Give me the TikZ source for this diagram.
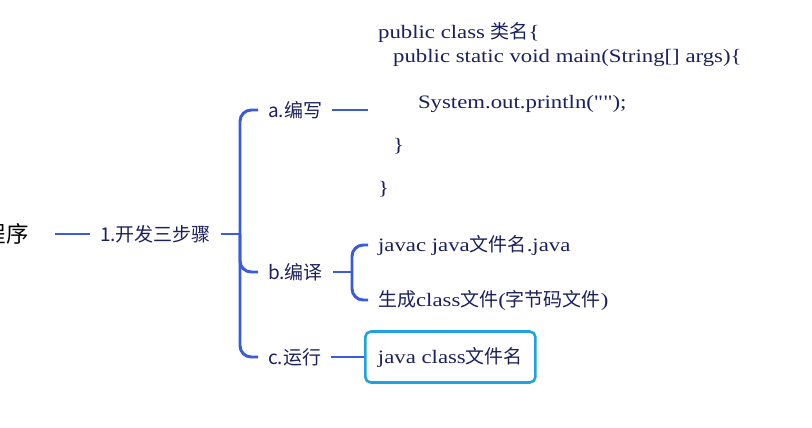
\documentclass[tikz,border=0pt]{standalone}
\usepackage{fontspec}
\setmainfont{Liberation Serif}[FakeStretch=1.2, Ligatures=TeXOff]
\newfontfamily\cjk{Noto Sans CJK SC}
\usepackage{tikz}
\usetikzlibrary{calc}
\definecolor{mmnavy}{RGB}{28,32,92}
\definecolor{mmbleu}{RGB}{58,92,220}
\definecolor{mmciel}{RGB}{30,162,226}

\begin{document}
\begin{tikzpicture}[
  x=0.025cm, y=-0.025cm,
  font=\fontsize{13.5}{16}\selectfont, text=mmnavy,
  item/.style={inner xsep=7pt, inner ysep=2pt, anchor=west},
  label/.style={item, font=\cjk\fontsize{13.5}{16}\selectfont},
  conn/.style={draw=mmbleu, line width=2.1pt},
  bracket/.style={conn, rounded corners=8pt},
  runbox/.style={draw=mmciel, line width=1.8pt, rounded corners=4pt,
                 minimum height=1.275cm, inner xsep=9pt, anchor=west}]

  \useasboundingbox (0,0) rectangle (812,428);
  \fill[white] (0,0) rectangle (812,428);

  \node[item, anchor=east, font=\cjk\fontsize{16}{18}\selectfont, text=black] (root) at (39,234) {程序};
  \node[label] (step) at (90,234) {1.开发三步骤};
  \coordinate (fork) at (240,234);

  \node[label] (write) at (258,110) {a.编写};
  \node[label] (compile) at (258,272) {b.编译};
  \node[label] (run) at (258,357) {c.运行};

  \node[item, align=left] (src) at (368,110) {%
    public class {\cjk 类名}\{\\[1pt]
    \hspace*{10.7pt}public static void main(String[] args)\{\\[16.7pt]
    \hspace*{28.4pt}System.out.println("");\\[14.6pt]
    \hspace*{10.7pt}\}\\[14.6pt]
    \}};

  \coordinate (bfork) at (352,272);
  \node[item] (javac) at (368,245) {javac java{\cjk 文件名}.java};
  \node[item] (gen) at (368,300) {{\cjk 生成}class{\cjk 文件}({\cjk 字节码文件})};

  \node[runbox] (exec) at (364,357) {java class{\cjk 文件名}};

  \draw[conn] ($(root.east)+(16,0)$) -- (step.west);
  \draw[conn] (step.east) -- (fork);
  \draw[bracket] (write.west) -| (fork) |- (run.west);
  \draw[bracket] (fork) |- (compile.west);
  \draw[conn] (write.east) -- (src.west);
  \draw[conn] (compile.east) -- (bfork);
  \draw[bracket] (javac.west) -| (bfork) |- (gen.west);
  \draw[conn] (run.east) -- (exec.west);
\end{tikzpicture}
\end{document}
